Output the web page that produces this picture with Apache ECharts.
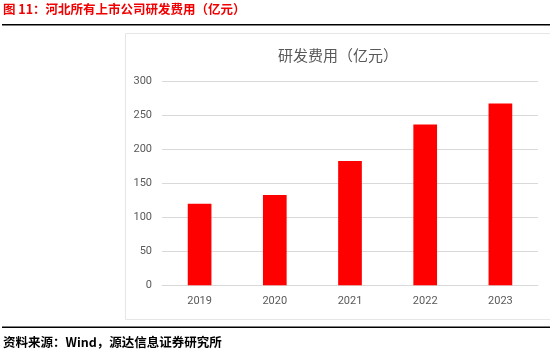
<!DOCTYPE html>
<html><head><meta charset="utf-8">
<script src="https://cdn.jsdelivr.net/npm/echarts@6/dist/echarts.min.js"></script>
<style>html,body{margin:0;padding:0;background:#fff}#c{width:550px;height:361px}</style>
</head><body><div id="c"></div>
<script>
const categories = ['2019','2020','2021','2022','2023'];
const values = [120, 133, 183, 237, 268];
const yTicks = [0, 300, 50];

const chart = echarts.init(document.getElementById('c'));
const font = '"Noto Sans CJK SC", "Noto Sans", sans-serif';
chart.setOption({
  animation: false,
  backgroundColor: '#fff',
  graphic: [
    {type:'text', left: 3, top: 3, style:{text:'图 11：河北所有上市公司研发费用（亿元）', fill:'#f00000', font:'bold 12.5px ' + font}},
    {type:'rect', shape:{x:2, y:24, width:548, height:1.5}, style:{fill:'#000'}},
    {type:'rect', shape:{x:125.5, y:33.5, width:440, height:286}, style:{fill:'none', stroke:'#e6e6e6', lineWidth:1}},
    {type:'rect', shape:{x:2, y:326.5, width:548, height:1.5}, style:{fill:'#000'}},
    {type:'text', left: 3, top: 336, style:{text:'资料来源：Wind，源达信息证券研究所', fill:'#000', font:'bold 12.5px ' + font}}
  ],
  title: {
    text: '研发费用（亿元）', left: 333, top: 43, textAlign: 'center',
    textStyle: {color:'#595959', fontSize: 15, fontWeight: 'normal', fontFamily: font}
  },
  grid: {left: 162, right: 12, top: 81.7, bottom: 75.7},
  xAxis: {
    type: 'category', data: categories,
    axisLine: {lineStyle: {color: '#d9d9d9'}},
    axisTick: {show: false},
    axisLabel: {color: '#595959', fontSize: 11, margin: 10, fontFamily: 'Roboto, sans-serif'}
  },
  yAxis: {
    type: 'value', min: yTicks[0], max: yTicks[1], interval: yTicks[2],
    axisLine: {show: false}, axisTick: {show: false},
    splitLine: {lineStyle: {color: '#d9d9d9'}},
    axisLabel: {color: '#595959', fontSize: 11, margin: 10, fontFamily: 'Roboto, sans-serif'}
  },
  series: [{
    type: 'bar', data: values, barWidth: '31.5%',
    itemStyle: {color: '#ff0000'}
  }]
});
</script></body></html>
